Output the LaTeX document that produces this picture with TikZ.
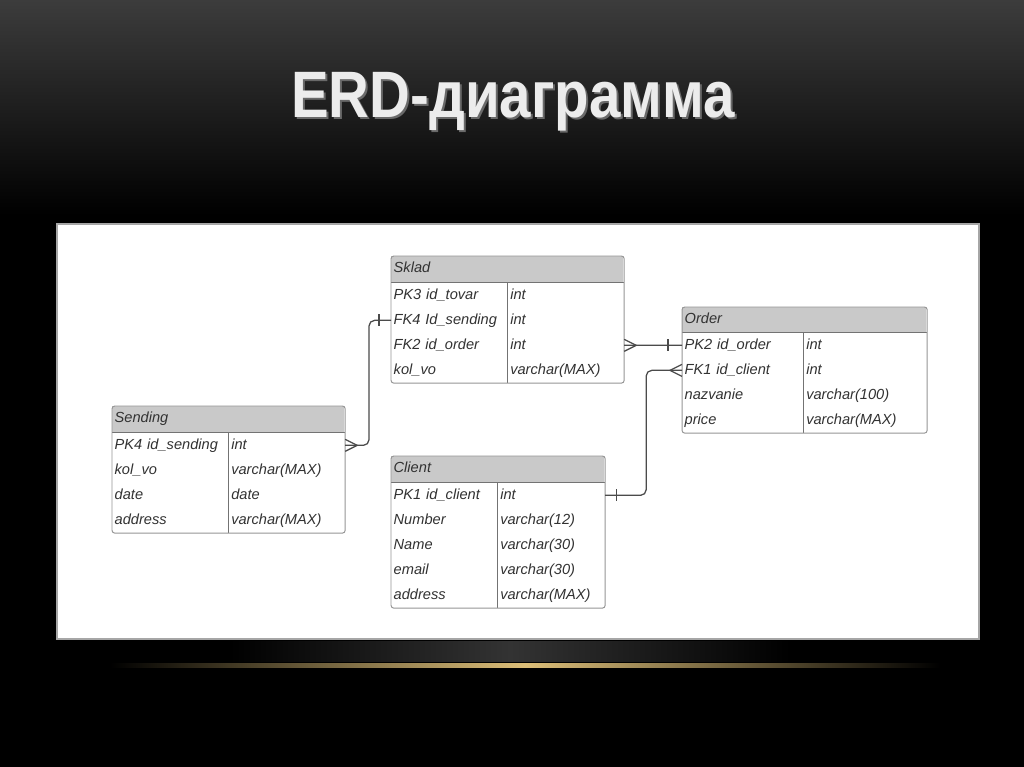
\documentclass[tikz,border=0pt]{standalone}
\usepackage{fontspec}
\setmainfont{Liberation Sans}
\usetikzlibrary{positioning, calc}
\definecolor{erdText}{RGB}{50, 50, 50}
\definecolor{erdHead}{RGB}{201, 201, 201}
\definecolor{erdFrame}{RGB}{150, 150, 150}
\definecolor{erdLine}{RGB}{115, 115, 115}
\definecolor{erdConn}{RGB}{75, 75, 75}
\definecolor{bgTop}{RGB}{60, 60, 60}
\definecolor{glowGold}{RGB}{220, 190, 120}
\definecolor{titleGray}{RGB}{236, 236, 236}
\definecolor{titleShade}{RGB}{105, 105, 105}
\newcommand{\erdfont}{\fontsize{10.4}{12}\selectfont\itshape}
\newcommand{\titlefont}{\fontsize{46.7}{50}\selectfont\bfseries}

\begin{document}
\begin{tikzpicture}[
    x=0.025cm, y=-0.025cm,
    thead/.style={anchor=north west, fill=erdHead, minimum height=0.65cm, inner xsep=0.06cm, inner ysep=0pt, text height=7.8pt, text depth=2.6pt, align=left, font=\erdfont, text=erdText},
    fld/.style={anchor=north west, minimum height=0.625cm, inner xsep=0.06cm, inner ysep=0pt, text height=7.8pt, text depth=2.6pt, align=left, font=\erdfont, text=erdText},
    tframe/.style={draw=erdFrame, line width=0.7pt, rounded corners=2pt},
    tline/.style={draw=erdLine, line width=0.6pt},
    conn/.style={draw=erdConn, line width=0.9pt, rounded corners=4pt},
    crowfoot/.pic={\draw[conn, sharp corners] (0,-6) -- (12,0) -- (0,6);},
    onebar/.pic={\draw[conn] (0,-6) -- (0,6);}
  ]
    \useasboundingbox (0,0) rectangle (1024,767);

    % slide background
    \fill[black] (0,0) rectangle (1024,767);
    \shade[top color=bgTop, bottom color=black] (0,0) rectangle (1024,215);
    \shade[left color=black, right color=black, middle color=gray!40!black] (230,641) rectangle (790,661);
    \shade[left color=black, right color=black, middle color=glowGold] (110,663) rectangle (940,667);

    % title
    \node[font=\titlefont, text=titleShade, anchor=base] (title-sh) at (515,120) {\scalebox{0.86}[1]{ERD-диаграмма}};
    \node[font=\titlefont, text=titleGray, anchor=base] (title) at (513,118) {\scalebox{0.86}[1]{ERD-диаграмма}};

    % white panel
    \draw[draw=gray!70, line width=0.8pt, fill=white] (57,224) rectangle (979,639);

    % Sklad
    \node[thead, text width=5.68cm] (sklad) at (391,256) {Sklad};
    \foreach \n/\t [count=\i] in {PK3 id\_tovar/int, FK4 Id\_sending/int, FK2 id\_order/int, kol\_vo/varchar(MAX)} {
      \node[fld, text width=2.78cm] (sklad-n\i) at ($(sklad.south west)+(0,{25*(\i-1)})$) {\n};
      \node[fld, text width=2.78cm] (sklad-t\i) at (sklad-n\i.north east) {\t};
    }
    \draw[tline] (sklad.south west) -- (sklad.south east);
    \draw[tline] (sklad-t1.north west) -- (sklad-t4.south west);
    \draw[tframe] (sklad.north west) rectangle (sklad-t4.south east);

    % Sending
    \node[thead, text width=5.68cm] (sending) at (112,406) {Sending};
    \foreach \n/\t [count=\i] in {PK4 id\_sending/int, kol\_vo/varchar(MAX), date/date, address/varchar(MAX)} {
      \node[fld, text width=2.78cm] (sending-n\i) at ($(sending.south west)+(0,{25*(\i-1)})$) {\n};
      \node[fld, text width=2.78cm] (sending-t\i) at (sending-n\i.north east) {\t};
    }
    \draw[tline] (sending.south west) -- (sending.south east);
    \draw[tline] (sending-t1.north west) -- (sending-t4.south west);
    \draw[tframe] (sending.north west) rectangle (sending-t4.south east);

    % Order
    \node[thead, text width=5.98cm, minimum height=0.625cm] (order) at (682,307) {Order};
    \foreach \n/\t [count=\i] in {PK2 id\_order/int, FK1 id\_client/int, nazvanie/varchar(100), price/varchar(MAX)} {
      \node[fld, text width=2.905cm] (order-n\i) at ($(order.south west)+(0,{25*(\i-1)})$) {\n};
      \node[fld, text width=2.955cm] (order-t\i) at (order-n\i.north east) {\t};
    }
    \draw[tline] (order.south west) -- (order.south east);
    \draw[tline] (order-t1.north west) -- (order-t4.south west);
    \draw[tframe] (order.north west) rectangle (order-t4.south east);

    % Client
    \node[thead, text width=5.205cm] (client) at (391,456) {Client};
    \foreach \n/\t [count=\i] in {PK1 id\_client/int, Number/varchar(12), Name/varchar(30), email/varchar(30), address/varchar(MAX)} {
      \node[fld, text width=2.53cm] (client-n\i) at ($(client.south west)+(0,{25*(\i-1)})$) {\n};
      \node[fld, text width=2.555cm] (client-t\i) at (client-n\i.north east) {\t};
    }
    \draw[tline] (client.south west) -- (client.south east);
    \draw[tline] (client-t1.north west) -- (client-t5.south west);
    \draw[tframe] (client.north west) rectangle (client-t5.south east);

    % relations
    \draw[conn] (sklad-n2.west) -- ++(-22,0) |- (sending-t1.east);
    \path ($(sklad-n2.west)+(-12,0)$) pic {onebar};
    \path (sending-t1.east) pic {crowfoot};

    \draw[conn] (sklad-t3.east) -- (order-n1.west);
    \path (sklad-t3.east) pic {crowfoot};
    \path ($(order-n1.west)+(-14,0)$) pic {onebar};

    \draw[conn] (client-t1.east) -- ++(41,0) |- (order-n2.west);
    \path ($(client-t1.east)+(11,0)$) pic {onebar};
    \path (order-n2.west) pic[xscale=-1] {crowfoot};
  \end{tikzpicture}
\end{document}
